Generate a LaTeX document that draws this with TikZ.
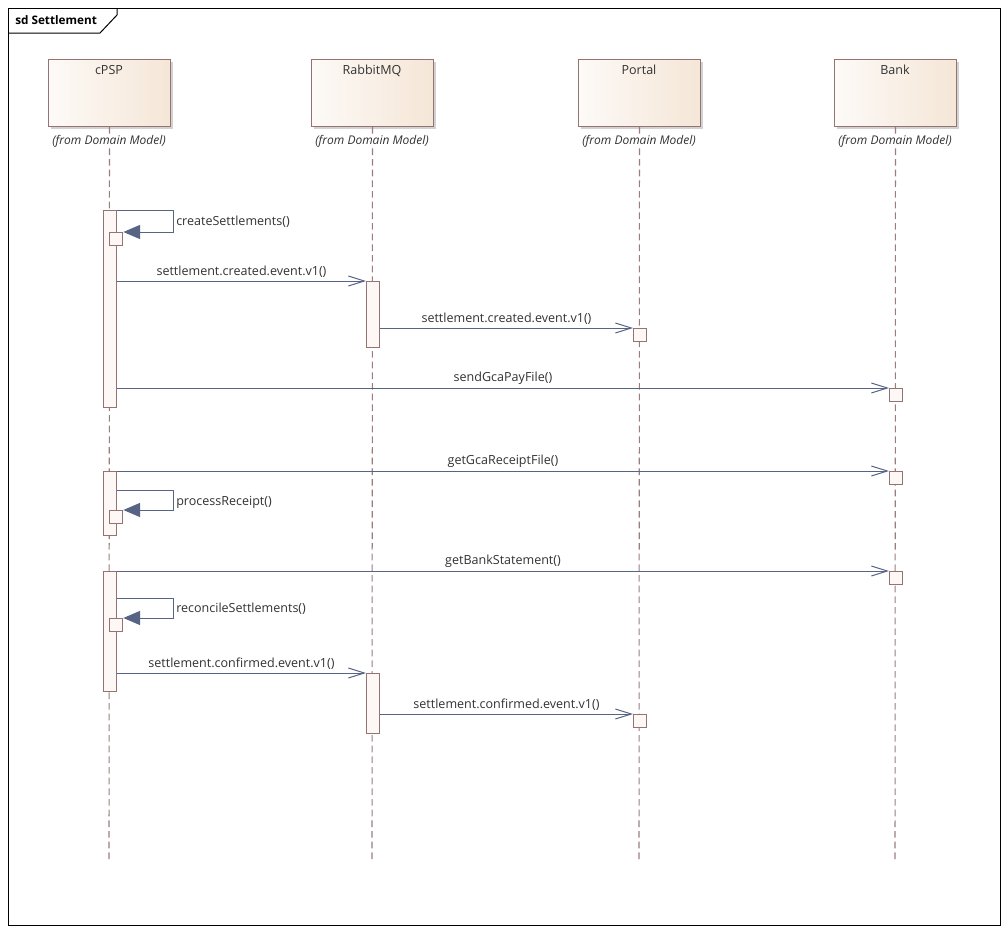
\documentclass[tikz,border=0pt]{standalone}
\usepackage{fontspec}
\setmainfont{Open Sans}
\usetikzlibrary{arrows.meta,shadows}
\definecolor{msgc}{RGB}{88,100,132}
\definecolor{actb}{RGB}{150,115,115}
\definecolor{actf}{RGB}{253,248,245}
\definecolor{lifec}{RGB}{155,125,125}
\definecolor{headl}{RGB}{253,250,247}
\definecolor{headr}{RGB}{245,230,215}
\definecolor{txtc}{RGB}{50,50,50}
\tikzset{
  base/.style={font=\fontsize{9.4}{11}\selectfont, text=txtc},
  head/.style={draw=actb, line width=0.75pt, left color=headl, right color=headr,
    minimum width=91.5pt, minimum height=50.25pt, anchor=north west, inner sep=0pt,
    drop shadow={shadow xshift=2pt, shadow yshift=-2pt, fill=black!35, opacity=0.5}},
  headname/.style={base, anchor=north, inner sep=0pt},
  from/.style={base, font=\fontsize{9}{11}\selectfont\itshape, anchor=north, inner sep=0pt, fill=white},
  life/.style={draw=lifec, line width=0.8pt, dash pattern=on 5pt off 3pt},
  actbox/.style={draw=actb, fill=actf, line width=0.75pt, anchor=north west, inner sep=0pt, minimum width=9.75pt},
  smallbox/.style={draw=actb, fill=actf, line width=0.75pt, anchor=north west, inner sep=0pt, minimum width=10pt, minimum height=9.5pt},
  msg/.style={draw=msgc, line width=0.75pt, -{Straight Barb[length=12pt, width=7.5pt]}},
  selfmsg/.style={draw=msgc, line width=0.75pt, -{Triangle[length=12.5pt, width=10.5pt, fill=msgc]}},
  mlabel/.style={base, above=2.5pt, midway, inner sep=0pt},
  slabel/.style={base, anchor=west, inner sep=0pt},
}
\begin{document}
\begin{tikzpicture}[x=0.75pt, y=-0.75pt]
\useasboundingbox (0,0) rectangle (1008,933);
\fill[white] (0,0) rectangle (1008,933);
% frame
\draw[black, line width=0.75pt] (8,8) rectangle (1000,925);
\draw[black, line width=0.75pt] (8,33) -- (100,33) -- (117,15) -- (117,8);
\node[font=\fontsize{8.8}{10}\selectfont\bfseries, anchor=west, inner sep=0pt] (title) at (15,20) {sd Settlement};
% heads
\node[head] (hc) at (48,59) {};
\node[head] (hr) at (311,59) {};
\node[head] (hp) at (578,59) {};
\node[head] (hb) at (834,59) {};
\node[headname] (nc) at (109,65) {cPSP};
\node[headname] (nr) at (372,65) {RabbitMQ};
\node[headname] (np) at (639,65) {Portal};
\node[headname] (nb) at (895,65) {Bank};
% lifelines
\coordinate (ec) at (109,862);
\coordinate (er) at (372,862);
\coordinate (ep) at (639,862);
\coordinate (eb) at (895,862);
\draw[life] (hc.south) -- (ec);
\draw[life] (hr.south) -- (er);
\draw[life] (hp.south) -- (ep);
\draw[life] (hb.south) -- (eb);
\node[from] (fc) at (109,135) {(from Domain Model)};
\node[from] (fr) at (372,135) {(from Domain Model)};
\node[from] (fp) at (639,135) {(from Domain Model)};
\node[from] (fb) at (895,135) {(from Domain Model)};
% activations
\node[actbox, minimum height=147.75pt] (A1) at (103,210) {};
\node[smallbox] (S1) at (109,232) {};
\node[actbox, minimum height=49.5pt] (R1) at (366,281) {};
\node[smallbox] (P1) at (633,328) {};
\node[smallbox] (B1) at (889,388) {};
\node[actbox, minimum height=48pt] (A2) at (103,471) {};
\node[smallbox] (B2) at (889,471) {};
\node[smallbox] (S2) at (109,510) {};
\node[actbox, minimum height=90pt] (A3) at (103,571) {};
\node[smallbox] (B3) at (889,571) {};
\node[smallbox] (S3) at (109,618) {};
\node[actbox, minimum height=45pt] (R2) at (366,673) {};
\node[smallbox] (P2) at (633,714) {};
% self messages
\draw[selfmsg] (A1.north east) -- ++(56,0) |- (S1.north east);
\node[slabel] (l1) at (176,222) {createSettlements()};
\draw[selfmsg] ([yshift=-14.25pt]A2.north east) -- ++(56,0) |- (S2.north east);
\node[slabel] (l4) at (176,502) {processReceipt()};
\draw[selfmsg] ([yshift=-20.25pt]A3.north east) -- ++(56,0) |- (S3.north east);
\node[slabel] (l6) at (176,609) {reconcileSettlements()};
% messages
\draw[msg] (A1.east |- R1.north west) -- (R1.north west) node[mlabel] {settlement.created.event.v1()};
\draw[msg] (R1.east |- P1.north west) -- (P1.north west) node[mlabel] {settlement.created.event.v1()};
\draw[msg] (A1.east |- B1.north west) -- (B1.north west) node[mlabel] {sendGcaPayFile()};
\draw[msg] (A2.north east) -- (B2.north west) node[mlabel] {getGcaReceiptFile()};
\draw[msg] (A3.north east) -- (B3.north west) node[mlabel] {getBankStatement()};
\draw[msg] (A3.east |- R2.north west) -- (R2.north west) node[mlabel] {settlement.confirmed.event.v1()};
\draw[msg] (R2.east |- P2.north west) -- (P2.north west) node[mlabel] {settlement.confirmed.event.v1()};
\end{tikzpicture}
\end{document}
